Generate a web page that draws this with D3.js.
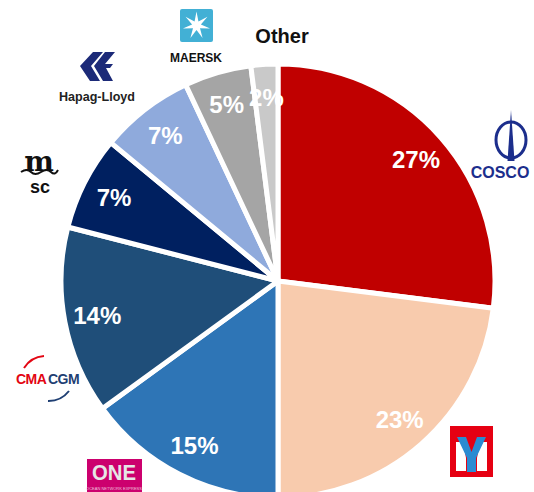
<!DOCTYPE html>
<html>
<head>
<meta charset="utf-8">
<script src="https://cdn.jsdelivr.net/npm/d3@7"></script>
<style>
  body { margin: 0; background: #fff; }
  svg { display: block; font-family: "Liberation Sans", Arial, sans-serif; }
</style>
</head>
<body>
<svg id="chart" width="534" height="492"></svg>
<script>
// carriers clockwise from 12 o'clock
const carriers = ['COSCO', 'Yang Ming', 'ONE', 'CMA CGM', 'MSC', 'Hapag-Lloyd', 'Maersk', 'Other'];
const shares = [27, 23, 15, 14, 7, 7, 5, 2];
const colors = ['#c00000', '#f8cbad', '#2e75b6', '#1f4e79', '#002060', '#8faadc', '#a5a5a5', '#c9c9c9'];

const svg = d3.select('#chart');
const cx = 278, cy = 281, radius = 217;

const pie = d3.pie().sort(null).value(d => d.value);
const arc = d3.arc().innerRadius(0).outerRadius(radius);
const labelArc = d3.arc().innerRadius(184).outerRadius(184);

const data = carriers.map((c, i) => ({ name: c, value: shares[i], color: colors[i] }));
const arcs = pie(data);

const g = svg.append('g').attr('transform', `translate(${cx},${cy})`);

g.selectAll('path.slice')
  .data(arcs)
  .join('path')
  .attr('class', 'slice')
  .attr('d', arc)
  .attr('fill', d => d.data.color)
  .attr('stroke', '#fff')
  .attr('stroke-width', 5)
  .attr('stroke-linejoin', 'round');

g.selectAll('text.pct')
  .data(arcs)
  .join('text')
  .attr('class', 'pct')
  .attr('transform', d => `translate(${labelArc.centroid(d)})`)
  .attr('text-anchor', 'middle')
  .attr('dy', '0.36em')
  .attr('fill', '#fff')
  .attr('font-weight', 'bold')
  .attr('font-size', 24)
  .text(d => d.data.value + '%');

// "Other" label
svg.append('text')
  .attr('x', 282).attr('y', 43)
  .attr('text-anchor', 'middle')
  .attr('font-weight', 'bold')
  .attr('font-size', 20)
  .attr('fill', '#111')
  .text('Other');

// ---- carrier logos (simplified) ----

// COSCO
const cosco = svg.append('g');
cosco.append('ellipse')
  .attr('cx', 511).attr('cy', 140).attr('rx', 15).attr('ry', 18)
  .attr('fill', 'none').attr('stroke', '#1c2e8c').attr('stroke-width', 3);
cosco.append('path')
  .attr('d', 'M511,110 L514.5,161 L507.5,161 Z')
  .attr('fill', '#1c2e8c');
cosco.append('text')
  .attr('x', 500).attr('y', 178).attr('text-anchor', 'middle')
  .attr('font-weight', 'bold').attr('font-size', 16)
  .attr('fill', '#1c2e8c')
  .text('COSCO');

// Yang Ming
const ym = svg.append('g');
ym.append('rect').attr('x', 450).attr('y', 426).attr('width', 43).attr('height', 51).attr('fill', '#e60012');
ym.append('path')
  .attr('d', 'M456,442 L463,442 L466,458 L466,471 L456,471 Z M487,442 L480,442 L477,458 L477,471 L487,471 Z')
  .attr('fill', '#fff');
ym.append('path')
  .attr('d', 'M457,437 L466,437 L471.5,452 L477,437 L486,437 L476,458 L476,472 L467,472 L467,458 Z')
  .attr('fill', '#2a8bd2');

// ONE
const one = svg.append('g');
one.append('rect').attr('x', 87).attr('y', 459).attr('width', 55).attr('height', 36).attr('fill', '#cc006e');
one.append('text')
  .attr('x', 114).attr('y', 480).attr('text-anchor', 'middle')
  .attr('font-weight', 'bold').attr('font-size', 22)
  .attr('fill', '#e6e6e6')
  .attr('textLength', 44).attr('lengthAdjust', 'spacingAndGlyphs')
  .text('ONE');
one.append('text')
  .attr('x', 114).attr('y', 490).attr('text-anchor', 'middle')
  .attr('font-size', 4).attr('fill', '#f0c0dc')
  .text('OCEAN NETWORK EXPRESS');

// CMA CGM
const cma = svg.append('g');
cma.append('path')
  .attr('d', 'M24,368 A26,26 0 0 1 44,356')
  .attr('fill', 'none').attr('stroke', '#e30613').attr('stroke-width', 2);
cma.append('path')
  .attr('d', 'M48,401 A26,26 0 0 0 69,391')
  .attr('fill', 'none').attr('stroke', '#1f3f73').attr('stroke-width', 2);
cma.append('text')
  .attr('x', 16).attr('y', 384)
  .attr('font-weight', 'bold').attr('font-size', 14)
  .attr('letter-spacing', -0.5)
  .attr('fill', '#e30613').text('CMA');
cma.append('text')
  .attr('x', 48).attr('y', 384)
  .attr('font-weight', 'bold').attr('font-size', 14)
  .attr('letter-spacing', -0.5)
  .attr('fill', '#1f3f73').text('CGM');

// MSC
const msc = svg.append('g');
msc.append('text')
  .attr('x', 39).attr('y', 171).attr('text-anchor', 'middle')
  .attr('font-family', '"DejaVu Serif", serif')
  .attr('font-weight', 'bold').attr('font-size', 28)
  .attr('fill', '#111').text('m');
msc.append('path')
  .attr('d', 'M21,172 Q27,168 31,172 T41,172 T51,172 T58,170')
  .attr('fill', 'none').attr('stroke', '#111').attr('stroke-width', 2);
msc.append('text')
  .attr('x', 40).attr('y', 193).attr('text-anchor', 'middle')
  .attr('font-weight', 'bold').attr('font-size', 18)
  .attr('fill', '#111').text('sc');

// Hapag-Lloyd
const hl = svg.append('g').attr('fill', '#1c2a78');
hl.append('path').attr('d', 'M93,52 L103,52 L91,66 L100,81 L90,81 L80,66 Z');
hl.append('path').attr('d', 'M105,52 L115,52 L105,64 L113,64 L110,68 L106,68 L113,81 L103,81 L94,66 Z');
svg.append('text')
  .attr('x', 97).attr('y', 101).attr('text-anchor', 'middle')
  .attr('font-size', 13).attr('font-weight', 'bold')
  .attr('fill', '#222')
  .attr('textLength', 76).attr('lengthAdjust', 'spacingAndGlyphs')
  .text('Hapag-Lloyd');

// Maersk
const mk = svg.append('g');
mk.append('rect').attr('x', 180).attr('y', 9).attr('width', 33).attr('height', 33).attr('rx', 2).attr('fill', '#42b0d5');
const star = d3.range(14).map(i => {
  const a = -Math.PI / 2 + i * Math.PI / 7;
  const r = i % 2 === 0 ? 14 : 4.5;
  return [196.5 + r * Math.cos(a), 25.5 + r * Math.sin(a)];
});
mk.append('path').attr('d', d3.line()(star) + 'Z').attr('fill', '#fff');
mk.append('text')
  .attr('x', 196).attr('y', 62).attr('text-anchor', 'middle')
  .attr('font-weight', 'bold').attr('font-size', 12)
  .attr('fill', '#111').text('MAERSK');
</script>
</body>
</html>
